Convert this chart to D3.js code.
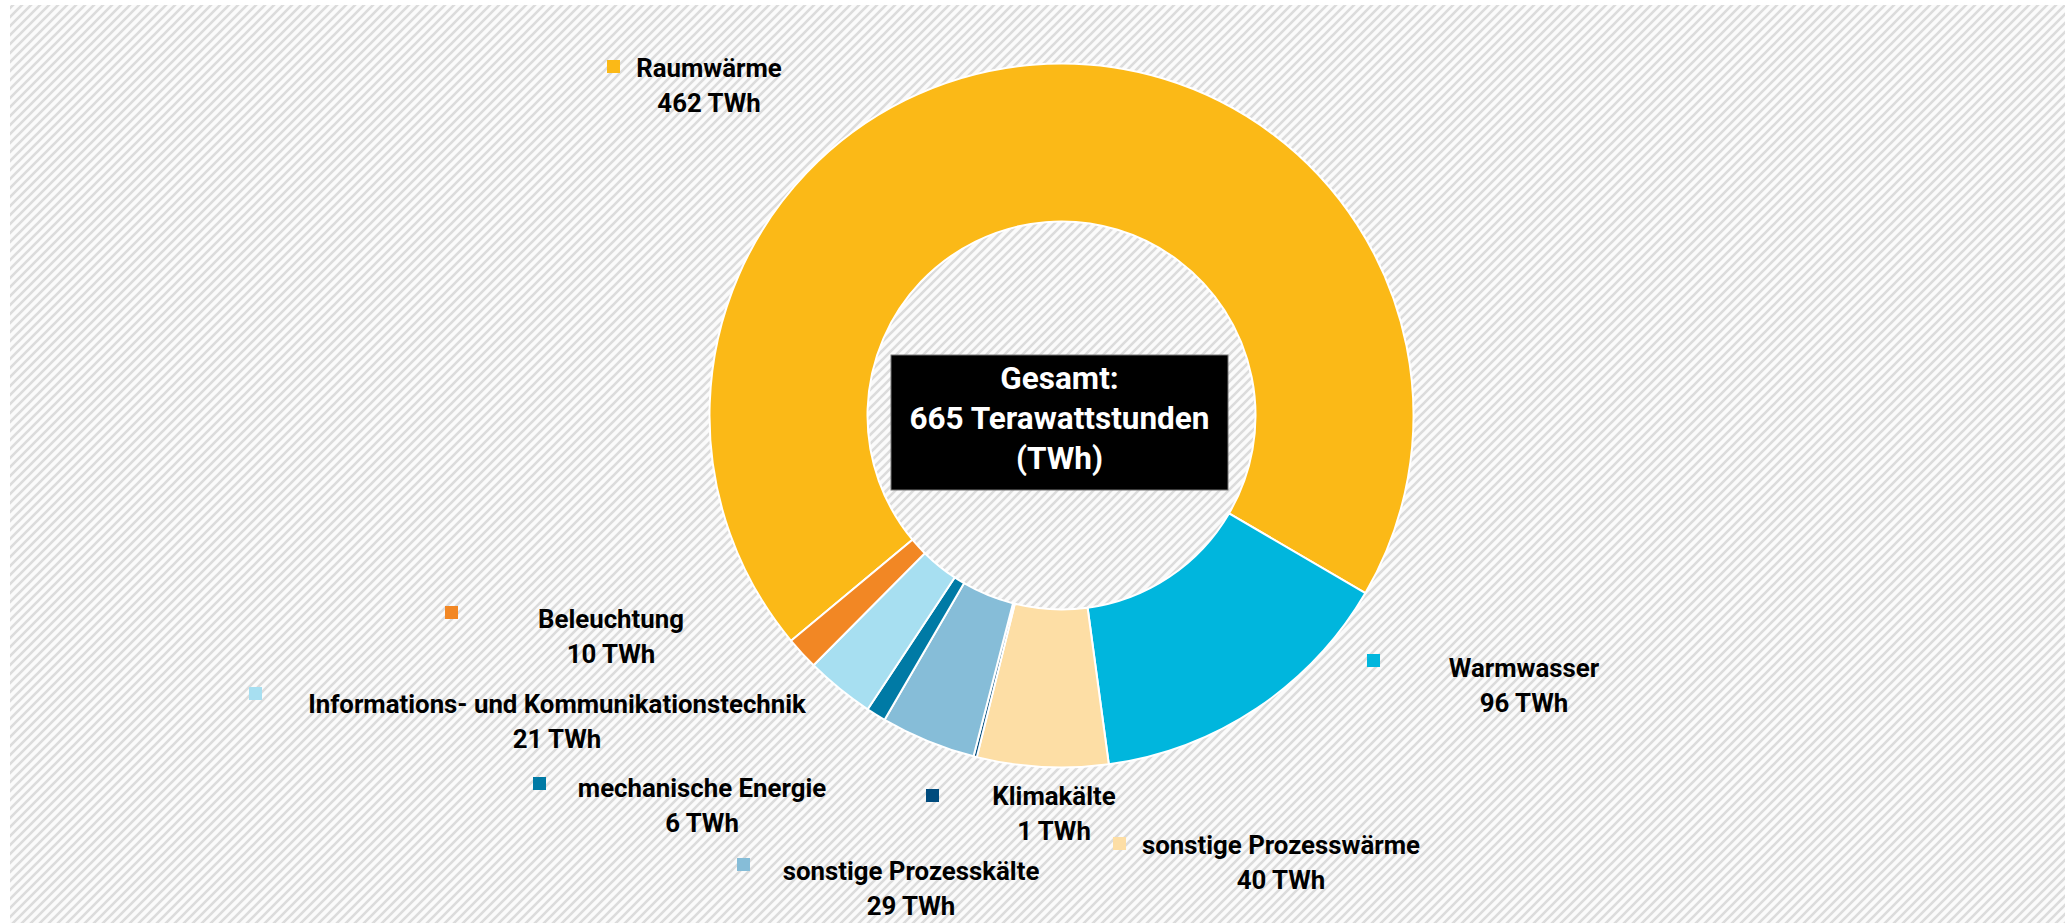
<!DOCTYPE html>
<html>
<head>
<meta charset="utf-8">
<script src="https://cdn.jsdelivr.net/npm/d3@7/dist/d3.min.js"></script>
<style>
  html, body { margin: 0; padding: 0; background: #fff; }
  svg { display: block; }
  text { font-family: Roboto, "Noto Sans", sans-serif; font-weight: 700; }
</style>
</head>
<body>
<svg id="chart"></svg>
<script>
const width = 2065;
const height = 923;

// data
const categories = ["Raumwärme", "Warmwasser", "sonstige Prozesswärme", "Klimakälte",
    "sonstige Prozesskälte", "mechanische Energie", "Informations- und Kommunikationstechnik", "Beleuchtung"];
const values = [462, 96, 40, 1, 29, 6, 21, 10];
const unit = "TWh";
const totalLines = ["Gesamt:", "665 Terawattstunden", "(TWh)"];

const colors = ["#fbb917", "#00b6dd", "#fddea5", "#004b7d", "#86bdd8", "#007aa5", "#a7dff1", "#f28724"];

// label layout: marker top-left, text centre and first baseline
const labelPos = [
    { sx: 607, sy: 60, cx: 709, by: 77 },
    { sx: 1367, sy: 654, cx: 1524, by: 677 },
    { sx: 1113, sy: 837, cx: 1281, by: 854 },
    { sx: 926, sy: 789, cx: 1054, by: 805 },
    { sx: 737, sy: 858, cx: 911, by: 880 },
    { sx: 533, sy: 777, cx: 702, by: 797 },
    { sx: 249, sy: 687, cx: 557, by: 713 },
    { sx: 445, sy: 606, cx: 611, by: 628 }
];

const cx = 1061.5, cy = 415.5;
const outerR = 352, innerR = 194;

const svg = d3.select("#chart")
    .attr("width", width)
    .attr("height", height);

const defs = svg.append("defs");
const pat = defs.append("pattern")
    .attr("id", "hatch")
    .attr("patternUnits", "userSpaceOnUse")
    .attr("width", 9)
    .attr("height", 9);
pat.append("rect").attr("width", 9).attr("height", 9).attr("fill", "#fbfbfb");
pat.append("path")
    .attr("d", "M-2,11 L11,-2 M-2,2 L2,-2 M7,11 L11,7")
    .attr("stroke", "#dcdcdc")
    .attr("stroke-width", 2.6);

svg.append("rect")
    .attr("x", 10)
    .attr("y", 5)
    .attr("width", width - 10)
    .attr("height", height - 5)
    .attr("fill", "url(#hatch)");

const pie = d3.pie()
    .sort(null)
    .value(d => d)
    .startAngle(-129.8 * Math.PI / 180)
    .endAngle(-129.8 * Math.PI / 180 + 2 * Math.PI);

const arc = d3.arc()
    .innerRadius(innerR)
    .outerRadius(outerR);

const g = svg.append("g")
    .attr("transform", `translate(${cx},${cy})`);

g.selectAll("path.slice")
    .data(pie(values))
    .enter()
    .append("path")
    .attr("class", "slice")
    .attr("d", arc)
    .attr("fill", (d, i) => colors[i])
    .attr("stroke", "#fff")
    .attr("stroke-width", 2);

// centre box
const box = svg.append("g");
box.append("rect")
    .attr("x", 891)
    .attr("y", 355)
    .attr("width", 337)
    .attr("height", 135)
    .attr("fill", "#000")
    .attr("stroke", "#777")
    .attr("stroke-width", 1);
box.selectAll("text")
    .data(totalLines)
    .enter()
    .append("text")
    .attr("x", 1059.5)
    .attr("y", (d, i) => 389 + i * 40)
    .attr("text-anchor", "middle")
    .attr("fill", "#fff")
    .attr("font-size", 31.5)
    .text(d => d);

// labels
const labels = svg.selectAll("g.label")
    .data(categories)
    .enter()
    .append("g")
    .attr("class", "label");

labels.append("rect")
    .attr("x", (d, i) => labelPos[i].sx)
    .attr("y", (d, i) => labelPos[i].sy)
    .attr("width", 13)
    .attr("height", 13)
    .attr("fill", (d, i) => colors[i]);

labels.append("text")
    .attr("x", (d, i) => labelPos[i].cx)
    .attr("y", (d, i) => labelPos[i].by)
    .attr("text-anchor", "middle")
    .attr("font-size", 25.8)
    .attr("fill", "#000")
    .text(d => d);

labels.append("text")
    .attr("x", (d, i) => labelPos[i].cx)
    .attr("y", (d, i) => labelPos[i].by + 35)
    .attr("text-anchor", "middle")
    .attr("font-size", 25.8)
    .attr("fill", "#000")
    .text((d, i) => `${values[i]} ${unit}`);
</script>
</body>
</html>
